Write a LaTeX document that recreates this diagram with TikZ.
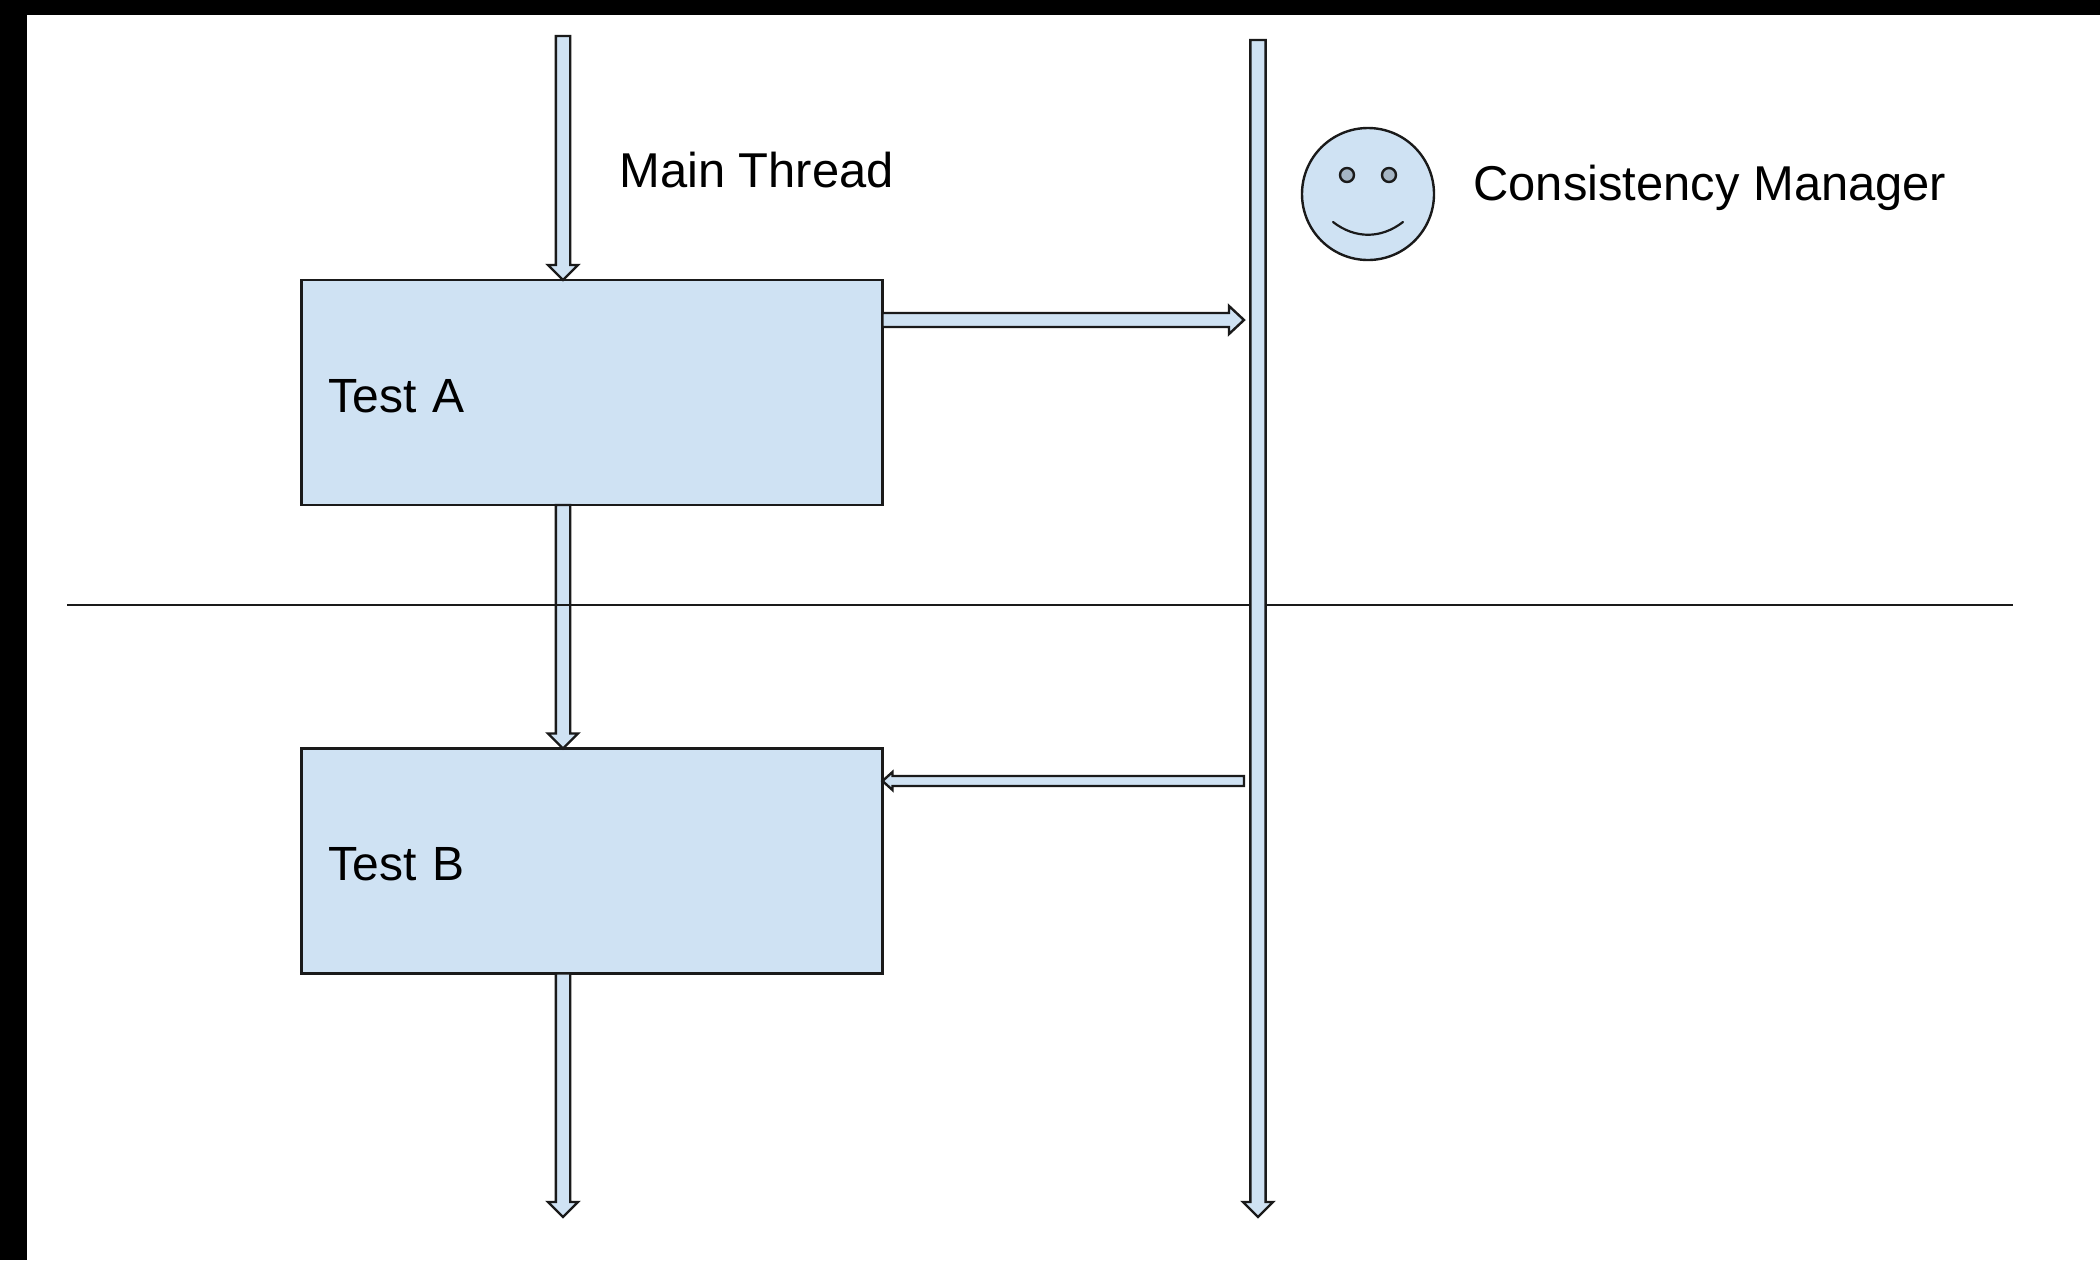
\documentclass[tikz,border=0pt]{standalone}
\usepackage{fontspec}
\setmainfont{Liberation Sans}
\usetikzlibrary{calc}
\definecolor{boxfill}{HTML}{CFE2F3}
\definecolor{eyefill}{HTML}{A5B5C4}
\definecolor{ink}{HTML}{1A1A1A}
\tikzset{
  shape line/.style={draw=ink,line width=1.2pt,line join=miter},
  testbox/.style={shape line,fill=boxfill,rectangle,minimum height=112.5pt,text width=263.5pt,
    inner xsep=13.5pt,inner ysep=0pt,outer sep=0pt,align=left,font=\fontsize{24pt}{28pt}\selectfont,text=black},
  label text/.style={inner sep=0pt,anchor=west,font=\fontsize{24.45pt}{28pt}\selectfont,text=black},
  barrow/.style={shape line,fill=boxfill},
  rule line/.style={draw=ink,line width=1.1pt},
}
% from, to, shaft half width, head half width, head length
\newcommand{\blockarrow}[5]{%
  \coordinate (bar) at ($#2!#5!#1$);
  \draw[barrow] ($#1!#3!90:#2$) -- ($(bar)!#3!90:#2$) -- ($(bar)!#4!90:#2$) -- #2
    -- ($(bar)!#4!-90:#2$) -- ($(bar)!#3!-90:#2$) -- ($#1!#3!-90:#2$) -- cycle;
}
\begin{document}
\begin{tikzpicture}[x=0.5pt,y=-0.5pt]
\useasboundingbox (0,0) rectangle (2100,1260);
\fill[black] (0,0) rectangle (2100,1260);
\fill[white] (27,15) rectangle (2100,1260);
\coordinate (ruleL) at (67,605);
\coordinate (ruleR) at (2013,605);
\node[testbox] (testA) at (592,392.5) {\raisebox{-9.85pt}[0pt][0pt]{Test A}};
\node[testbox] (testB) at (592,861) {\raisebox{-9.85pt}[0pt][0pt]{Test B}};
\coordinate (mainTop) at (563,36);
\coordinate (mainEnd) at (563,1217);
\coordinate (cmTop) at (1258,40);
\coordinate (cmEnd) at (1258,1217);
\coordinate (reqEnd) at (1244,320);
\coordinate (respStart) at (1244,781);
\blockarrow{(mainTop)}{(mainTop |- testA.north)}{3.6pt}{7.5pt}{7.5pt}
\blockarrow{(mainTop |- testA.south)}{(mainTop |- testB.north)}{3.6pt}{7.5pt}{7.5pt}
\blockarrow{(mainTop |- testB.south)}{(mainEnd)}{3.6pt}{7.5pt}{7.5pt}
\draw[rule line] (ruleL) -- (ruleR);
\blockarrow{(cmTop)}{(cmEnd)}{3.8pt}{7.5pt}{7.5pt}
\blockarrow{(testA.east |- reqEnd)}{(reqEnd)}{3.5pt}{7pt}{7.5pt}
\blockarrow{(respStart)}{(testB.east |- respStart)}{2.5pt}{4.5pt}{5pt}
\node[label text] (mainLabel) at (619,170) {Main Thread};
\node[label text] (cmLabel) at (1473,188) {Consistency Manager};
\node[circle,shape line,fill=boxfill,minimum size=66pt,inner sep=0pt,outer sep=0pt] (face) at (1368,194) {};
\node[circle,shape line,fill=eyefill,minimum size=7pt,inner sep=0pt,outer sep=0pt] (eyeL) at (1347,175) {};
\node[circle,shape line,fill=eyefill,minimum size=7pt,inner sep=0pt,outer sep=0pt] (eyeR) at (1389,175) {};
\draw[rule line,line cap=round] (1333,222) .. controls (1355,239) and (1381,239) .. (1403,222);
\end{tikzpicture}
\end{document}
